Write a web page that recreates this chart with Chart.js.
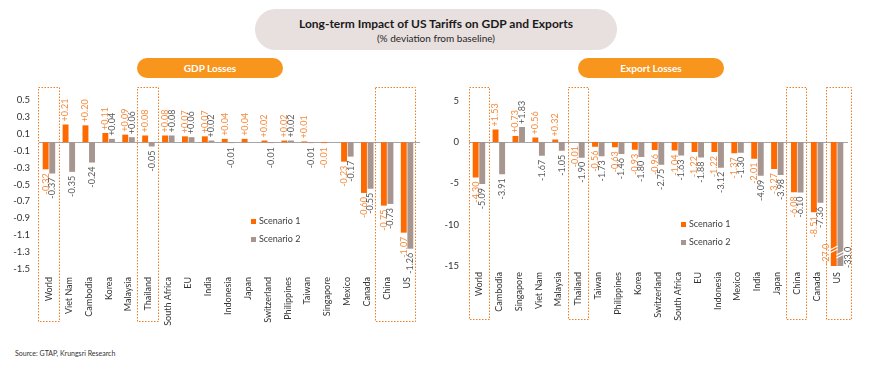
<!DOCTYPE html>
<html><head><meta charset="utf-8">
<script src="https://cdn.jsdelivr.net/npm/chart.js@4.4.1/dist/chart.umd.min.js"></script>
<style>
html,body{margin:0;padding:0;background:#fff;}
#root{position:relative;width:870px;height:369px;overflow:hidden;font-family:Lato,"Open Sans",sans-serif;}
.title{position:absolute;left:255px;top:9px;width:362px;height:41px;border-radius:21px;background:#E8DFDF;text-align:center;}
.title .t1{font-weight:700;font-size:12px;color:#1a1a1a;margin-top:7px;line-height:15px;}
.title .t2{font-size:10px;color:#262626;line-height:13px;margin-top:1px;}
.pill{position:absolute;top:58px;width:146px;height:20px;border-radius:10px;background:#F7951D;color:#fff;font-weight:700;font-size:10px;line-height:20px;text-align:center;}
.wrap{position:absolute;top:85px;}
.src{position:absolute;left:15px;top:349px;font-size:7px;color:#333;}
</style></head>
<body><div id="root">
<div class="title"><div class="t1">Long-term Impact of US Tariffs on GDP and Exports</div><div class="t2">(% deviation from baseline)</div></div>
<div class="pill" style="left:137px;">GDP Losses</div>
<div class="pill" style="left:578px;">Export Losses</div>
<div class="wrap" style="left:0px;width:430px;height:244px;"><canvas id="gdp" width="430" height="244" style="width:430px;height:244px;"></canvas></div>
<div class="wrap" style="left:440px;width:430px;height:241px;"><canvas id="exp" width="430" height="241" style="width:430px;height:241px;"></canvas></div>
<div class="src">Source: GTAP, Krungsri Research</div>
</div>
<script>
const seriesNames = ['Scenario 1', 'Scenario 2'];

const gdpCategories = ['World','Viet Nam','Cambodia','Korea','Malaysia','Thailand','South Africa','EU','India','Indonesia','Japan','Switzerland','Philippines','Taiwan','Singapore','Mexico','Canada','China','US'];
const gdpScenario1 = [-0.32, 0.21, 0.20, 0.11, 0.09, 0.08, 0.08, 0.07, 0.07, 0.04, 0.04, 0.02, 0.02, 0.01, -0.01, -0.23, -0.60, -0.75, -1.07];
const gdpScenario2 = [-0.37, -0.35, -0.24, 0.04, 0.06, -0.05, 0.08, 0.06, 0.02, -0.01, 0, -0.01, 0.02, -0.01, 0, -0.17, -0.55, -0.73, -1.26];

const exportCategories = ['World','Cambodia','Singapore','Viet Nam','Malaysia','Thailand','Taiwan','Philippines','Korea','Switzerland','South Africa','EU','Indonesia','Mexico','India','Japan','China','Canada','US'];
const exportScenario1 = [-4.30, 1.53, 0.73, 0.56, 0.32, -0.01, -0.56, -0.63, -0.93, -0.96, -1.04, -1.22, -1.22, -1.37, -2.01, -3.27, -6.08, -8.51, -27.0];
const exportScenario2 = [-5.09, -3.91, 1.83, -1.67, -1.05, -1.90, -1.73, -1.46, -1.80, -2.75, -1.63, -1.88, -3.12, -1.30, -4.09, -3.98, -6.10, -7.36, -33.0];

Chart.defaults.font.family = 'Lato, "Open Sans", sans-serif';

const COLORS = ['#FF6A00', '#A7958F'];
const LABEL_COLORS = ['#F68A3C', '#595959'];

function fmt(v){
  const s = Math.abs(v) >= 10 ? v.toFixed(1) : v.toFixed(2);
  return v > 0 ? '+' + s : s;
}

const decor = {
  id: 'decor',
  beforeDatasetsDraw(chart, args, o){
    const {ctx, chartArea:a, scales:{y}} = chart;
    const y0 = Math.round(y.getPixelForValue(0)) + 0.5;
    ctx.save(); ctx.strokeStyle = '#A6A6A6'; ctx.lineWidth = 1;
    ctx.beginPath(); ctx.moveTo(a.left, y0); ctx.lineTo(a.right + (o.zeroExt||0), y0); ctx.stroke();
    ctx.restore();
  },
  afterDatasetsDraw(chart, args, o){
    const {ctx, chartArea:a, scales:{x, y}} = chart;
    const step = x.getPixelForValue(1) - x.getPixelForValue(0);
    // dotted highlight boxes
    ctx.save(); ctx.strokeStyle = '#F47C20'; ctx.lineWidth = 1; ctx.setLineDash([1.5, 1.5]);
    o.boxes.forEach(b => {
      const l = x.getPixelForValue(b.from) - step/2 + (b.dl||0);
      const r = x.getPixelForValue(b.to) + step/2 + (b.dr||0);
      ctx.strokeRect(Math.round(l) + 0.5, o.boxTop + 0.5, Math.round(r - l), o.boxBottom - o.boxTop);
    });
    ctx.restore();
    // value labels
    chart.data.datasets.forEach((ds, di) => {
      const meta = chart.getDatasetMeta(di);
      meta.data.forEach((bar, j) => {
        const v = ds.data[j];
        if (!v) return;
        const clipped = v < y.min;
        let px = bar.x, py, align;
        if (clipped) {
          px = di === 0 ? bar.x - bar.width/2 - 5 : bar.x + bar.width/2 + 5;
          py = a.bottom + (di === 0 ? -1 : 2); align = 'left';
        } else if (v > 0) { py = bar.y - 3; align = 'left'; }
        else { py = bar.y + 4; align = 'right'; }
        ctx.save();
        ctx.font = '9px Lato, "Open Sans", sans-serif';
        ctx.fillStyle = LABEL_COLORS[di];
        ctx.textBaseline = 'middle';
        ctx.translate(px, py); ctx.rotate(-Math.PI/2); ctx.textAlign = align;
        ctx.fillText(fmt(v), 0, 0);
        ctx.restore();
        if (clipped) {
          const yb = a.bottom - (di === 0 ? 18 : 13);
          ctx.save(); ctx.strokeStyle = '#ffffff'; ctx.lineWidth = 1.2;
          [0, 3].forEach(k => {
            ctx.beginPath();
            ctx.moveTo(bar.x - bar.width/2 - 1, yb + k + 2);
            ctx.lineTo(bar.x + bar.width/2 + 1, yb + k - 2);
            ctx.stroke();
          });
          ctx.restore();
        }
      });
    });
    // legend
    const L = o.legend;
    chart.data.datasets.forEach((ds, di) => {
      const yy = L.y + di * L.gap;
      ctx.save();
      ctx.fillStyle = ds.backgroundColor;
      ctx.fillRect(L.x, yy, 5, 5);
      ctx.fillStyle = '#404040';
      ctx.font = '9px Lato, "Open Sans", sans-serif';
      ctx.textBaseline = 'middle'; ctx.textAlign = 'left';
      ctx.fillText(ds.label, L.x + 8, yy + 2.5);
      ctx.restore();
    });
  }
};

function makeChart(id, cats, s1, s2, cfg){
  return new Chart(document.getElementById(id), {
    type: 'bar',
    data: {
      labels: cats,
      datasets: [
        {label: seriesNames[0], data: s1, backgroundColor: COLORS[0]},
        {label: seriesNames[1], data: s2, backgroundColor: COLORS[1]}
      ]
    },
    options: {
      responsive: false,
      devicePixelRatio: 1,
      animation: false,
      categoryPercentage: 0.66,
      barPercentage: 0.9,
      layout: {padding: {top: 15, right: cfg.padRight, left: 0, bottom: 0}},
      plugins: {
        legend: {display: false},
        tooltip: {enabled: false},
        decor: cfg.decor
      },
      scales: {
        x: {
          grid: {display: false, drawTicks: false},
          border: {display: false},
          ticks: {autoSkip: false, maxRotation: 90, minRotation: 90, padding: cfg.xPad, color: '#333', font: {size: 9}},
          afterFit: s => { s.height = 60; }
        },
        y: {
          min: cfg.min, max: cfg.max,
          grid: {display: false, drawTicks: false},
          border: {display: false},
          ticks: {stepSize: cfg.step, padding: cfg.yPad, color: '#333', font: {size: 9.5}, callback: cfg.tickFmt},
          afterFit: s => { s.width = cfg.yWidth; }
        }
      }
    },
    plugins: [decor]
  });
}

makeChart('gdp', gdpCategories, gdpScenario1, gdpScenario2, {
  min: -1.5, max: 0.5, step: 0.2, padRight: 13, yWidth: 39, yPad: 9, xPad: 8,
  tickFmt: v => (Math.round(v * 10) / 10).toFixed(1),
  decor: {zeroExt: 3, boxTop: 2, boxBottom: 236,
    boxes: [{from: 0, to: 0, dl: -1}, {from: 5, to: 5, dl: -1}, {from: 17, to: 18, dl: -2, dr: -2}],
    legend: {x: 251, y: 134, gap: 18}}
});

makeChart('exp', exportCategories, exportScenario1, exportScenario2, {
  min: -15, max: 5, step: 5, padRight: 23, yWidth: 29, yPad: 10, xPad: 6,
  tickFmt: v => String(v),
  decor: {zeroExt: 1, boxTop: 2, boxBottom: 234,
    boxes: [{from: 0, to: 0}, {from: 5, to: 5}, {from: 16, to: 16, dl: -1, dr: -1}, {from: 18, to: 18, dl: -1, dr: 4}],
    legend: {x: 241, y: 137, gap: 18}}
});
</script>
</body></html>
